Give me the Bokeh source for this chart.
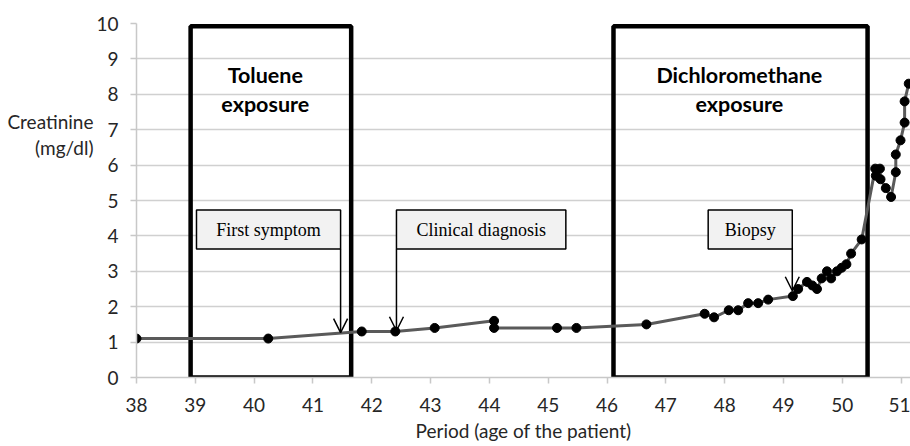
from bokeh.plotting import figure
from bokeh.models import Range1d, Arrow, OpenHead, FixedTicker, ColumnDataSource
from bokeh.core.properties import value
from bokeh.embed import file_html
from bokeh.resources import INLINE

# ---------------- data ----------------
age = [38.0, 40.24, 41.83, 42.40, 43.07, 44.08, 44.08, 45.15, 45.48, 46.67,
       47.66, 47.82, 48.07, 48.23, 48.40, 48.57, 48.74, 49.16, 49.25, 49.40,
       49.49, 49.57, 49.65, 49.74, 49.81, 49.91, 49.99, 50.07, 50.15, 50.33,
       50.56, 50.57, 50.64, 50.65, 50.74, 50.83, 50.91, 50.91, 50.99, 51.06,
       51.06, 51.13]
creatinine = [1.1, 1.1, 1.3, 1.3, 1.4, 1.6, 1.4, 1.4, 1.4, 1.5,
              1.8, 1.7, 1.9, 1.9, 2.1, 2.1, 2.2, 2.3, 2.5, 2.7,
              2.6, 2.5, 2.8, 3.0, 2.8, 3.0, 3.1, 3.2, 3.5, 3.9,
              5.9, 5.7, 5.9, 5.6, 5.35, 5.1, 5.8, 6.3, 6.7, 7.2,
              7.8, 8.3]

x_ticks = list(range(38, 52))
y_ticks = list(range(0, 11))

exposure_start = [38.92, 46.11]
exposure_end = [41.65, 50.43]
exposure_top = [9.92, 9.92]
exposure_label_x = [40.19, 48.25]
exposure_line1 = ["Toluene", "Dichloromethane"]
exposure_line2 = ["exposure", "exposure"]

event_labels = ["First symptom", "Clinical diagnosis", "Biopsy"]
event_age = [41.47, 42.42, 49.15]
event_level = [1.27, 1.32, 2.45]
event_box_left = [39.02, 42.42, 47.72]
event_box_right = [41.47, 45.30, 49.15]

# ---------------- figure ----------------
p = figure(width=910, height=446,
           x_range=Range1d(38, 51.16), y_range=Range1d(0, 10),
           output_backend="svg", toolbar_location=None,
           min_border_left=136, min_border_right=0,
           min_border_top=23, min_border_bottom=69)
p.outline_line_color = None
p.background_fill_color = "white"

p.xgrid.grid_line_color = None
p.ygrid.grid_line_color = "#d0d0d0"
p.ygrid.grid_line_width = 1.5
p.ygrid.ticker = FixedTicker(ticks=y_ticks)

for ax in (p.xaxis[0], p.yaxis[0]):
    ax.axis_line_color = "#c8c8c8"
    ax.axis_line_width = 1.5
    ax.major_tick_line_color = "#c8c8c8"
    ax.major_tick_line_width = 1.5
    ax.major_tick_out = 6
    ax.major_tick_in = 0
    ax.minor_tick_line_color = None
    ax.major_label_text_font = "Lato"
    ax.major_label_text_font_size = "19px"
    ax.major_label_text_color = "#262626"
    ax.axis_label_text_font = "Lato"
    ax.axis_label_text_font_size = "19px"
    ax.axis_label_text_font_style = "normal"
    ax.axis_label_text_color = "#262626"

p.xaxis.ticker = FixedTicker(ticks=x_ticks)
p.yaxis.ticker = FixedTicker(ticks=y_ticks)
p.xaxis.major_label_standoff = 14
p.yaxis.major_label_standoff = 12
p.xaxis.axis_label = "Period (age of the patient)"
p.xaxis.axis_label_standoff = 4

yax = p.yaxis[0]
yax.axis_label = "Creatinine\n(mg/dl)\n\n\n\n\n"
yax.axis_label_orientation = "horizontal"
yax.axis_label_text_align = "center"
yax.axis_label_text_line_height = 1.15
yax.axis_label_standoff = 0

exp_src = ColumnDataSource(dict(left=exposure_start, right=exposure_end,
                                top=exposure_top, bottom=[0, 0],
                                cx=exposure_label_x,
                                l1=exposure_line1, l2=exposure_line2))
p.quad(left="left", right="right", top="top", bottom="bottom", source=exp_src,
       fill_color=None, line_color="black", line_width=4.5)
p.text(x="cx", y=8.55, text="l1", source=exp_src, text_align="center",
       text_baseline="middle", text_font=value("Lato"), text_font_size="21.5px",
       text_font_style="bold", text_color="black")
p.text(x="cx", y=7.74, text="l2", source=exp_src, text_align="center",
       text_baseline="middle", text_font=value("Lato"), text_font_size="21.5px",
       text_font_style="bold", text_color="black")

src = ColumnDataSource(dict(age=age, creatinine=creatinine))
p.line("age", "creatinine", source=src, line_color="#5a5a5a", line_width=3)
p.scatter("age", "creatinine", source=src, size=9, fill_color="black",
          line_color="black")

ev_src = ColumnDataSource(dict(left=event_box_left, right=event_box_right,
                               top=[4.73] * 3, bottom=[3.63] * 3,
                               cx=[(a + b) / 2 for a, b in zip(event_box_left, event_box_right)],
                               lab=event_labels, ax=event_age, ay=event_level,
                               ay0=[3.63] * 3))
p.quad(left="left", right="right", top="top", bottom="bottom", source=ev_src,
       fill_color="#f2f2f2", line_color="black", line_width=1.5)
p.text(x="cx", y=4.18, text="lab", source=ev_src, text_align="center",
       text_baseline="middle", text_font=value("Liberation Serif"),
       text_font_size="18px", text_color="black")
p.add_layout(Arrow(end=OpenHead(size=14, line_width=1.5, line_color="black"),
                   x_start="ax", y_start="ay0", x_end="ax", y_end="ay",
                   source=ev_src, line_width=1.5, line_color="black"))

open("out.html", "w").write(file_html(p, INLINE))
